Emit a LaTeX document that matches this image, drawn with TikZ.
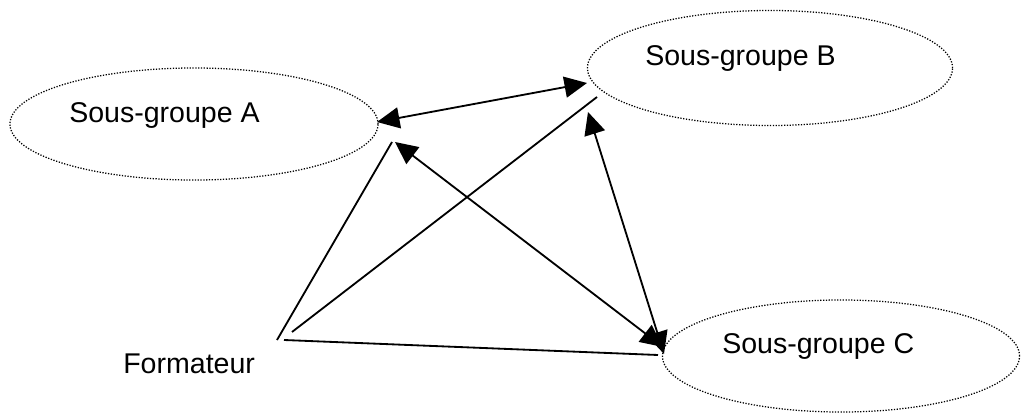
\documentclass[tikz,border=0pt]{standalone}
\usepackage{fontspec}
\setmainfont{Liberation Sans}
\usetikzlibrary{shapes.geometric}
\usetikzlibrary{arrows.meta}

\begin{document}
\begin{tikzpicture}[x=0.025cm,y=-0.025cm,
    group/.style={draw,ellipse,dash pattern=on 0.9pt off 1.1pt,line width=0.9pt,inner sep=0pt},
    grouplabel/.style={font=\fontsize{20.3}{24}\selectfont,inner sep=0pt,anchor=base west},
    link/.style={line width=1.3pt},
    both/.style={link,{Triangle[length=16pt,width=15pt]}-{Triangle[length=16pt,width=15pt]}},
]
    \useasboundingbox (0,0) rectangle (1021,414);
        % the three groups
        \node[group,minimum width=9.2cm,minimum height=2.8cm] (A) at (194,124) {};
        \node[group,minimum width=9.125cm,minimum height=2.875cm] (B) at (770,68) {};
        \node[group,minimum width=8.925cm,minimum height=2.8cm] (C) at (841,356) {};
        \node[grouplabel] (la) at (69,122) {Sous-groupe A};
        \node[grouplabel] (lb) at (645,65) {Sous-groupe B};
        \node[grouplabel] (lc) at (722,353) {Sous-groupe C};
        \node[grouplabel] (form) at (123,373) {Formateur};
        % line ends
        \coordinate (ab1) at (377,122);
        \coordinate (ab2) at (587,83);
        \coordinate (ac1) at (395,142);
        \coordinate (ac2) at (663,347);
        \coordinate (bc1) at (588,112);
        \coordinate (bc2) at (664,354);
        \coordinate (fa1) at (277,340);
        \coordinate (fa2) at (392,142);
        \coordinate (fb1) at (292,332);
        \coordinate (fb2) at (597,97);
        \coordinate (fc1) at (284,340);
        \coordinate (fc2) at (658,355);
        % exchanges between groups
        \draw[both] (ab1) -- (ab2);
        \draw[both] (ac1) -- (ac2);
        \draw[both] (bc1) -- (bc2);
        % trainer to groups
        \draw[link] (fa1) -- (fa2);
        \draw[link] (fb1) -- (fb2);
        \draw[link] (fc1) -- (fc2);
\end{tikzpicture}
\end{document}
